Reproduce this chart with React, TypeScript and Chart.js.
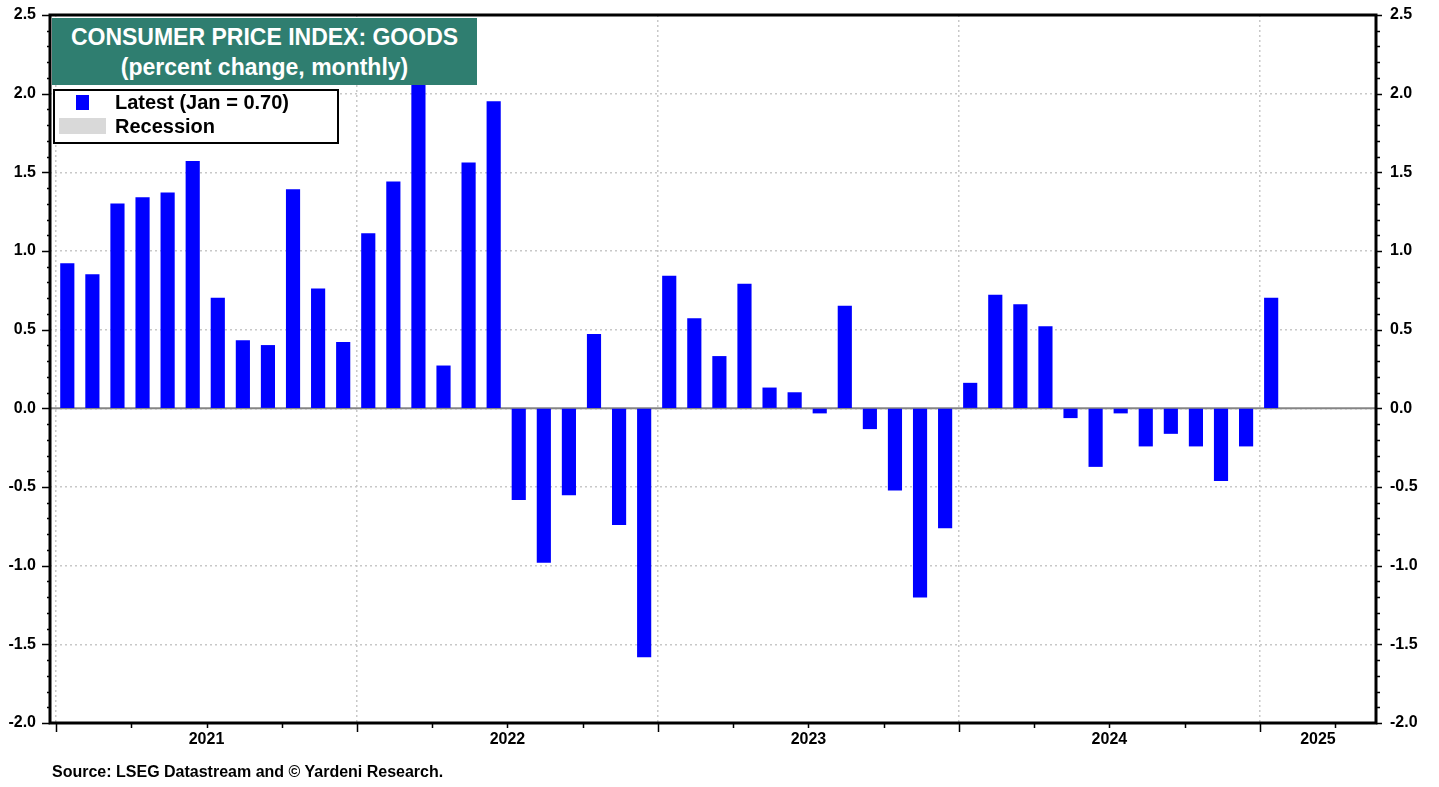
import React, { useEffect, useRef } from 'react';
import { Chart, registerables } from 'chart.js';

Chart.register(...registerables);

// ---------- data ----------
const months = [
  'Jan 2021', 'Feb 2021', 'Mar 2021', 'Apr 2021', 'May 2021', 'Jun 2021',
  'Jul 2021', 'Aug 2021', 'Sep 2021', 'Oct 2021', 'Nov 2021', 'Dec 2021',
  'Jan 2022', 'Feb 2022', 'Mar 2022', 'Apr 2022', 'May 2022', 'Jun 2022',
  'Jul 2022', 'Aug 2022', 'Sep 2022', 'Oct 2022', 'Nov 2022', 'Dec 2022',
  'Jan 2023', 'Feb 2023', 'Mar 2023', 'Apr 2023', 'May 2023', 'Jun 2023',
  'Jul 2023', 'Aug 2023', 'Sep 2023', 'Oct 2023', 'Nov 2023', 'Dec 2023',
  'Jan 2024', 'Feb 2024', 'Mar 2024', 'Apr 2024', 'May 2024', 'Jun 2024',
  'Jul 2024', 'Aug 2024', 'Sep 2024', 'Oct 2024', 'Nov 2024', 'Dec 2024',
  'Jan 2025',
];

const goodsCpiChange = [
  0.92, 0.85, 1.30, 1.34, 1.37, 1.57, 0.70, 0.43, 0.40, 1.39, 0.76, 0.42,
  1.11, 1.44, 2.15, 0.27, 1.56, 1.95, -0.58, -0.98, -0.55, 0.47, -0.74, -1.58,
  0.84, 0.57, 0.33, 0.79, 0.13, 0.10, -0.03, 0.65, -0.13, -0.52, -1.20, -0.76,
  0.16, 0.72, 0.66, 0.52, -0.06, -0.37, -0.03, -0.24, -0.16, -0.24, -0.46, -0.24,
  0.70,
];

const yearLabels = ['2021', '2022', '2023', '2024', '2025'];

const titleLines = ['CONSUMER PRICE INDEX: GOODS', '(percent change, monthly)'];
const legendLatest = 'Latest (Jan = 0.70)';
const legendRecession = 'Recession';
const sourceText = 'Source: LSEG Datastream and \u00A9 Yardeni Research.';

// ---------- layout / style ----------
const X_MIN = -0.24;
const X_MAX = 52.63;
const Y_MIN = -2.0;
const Y_MAX = 2.5;
const FONT_FAMILY = '"Liberation Sans", Arial, Helvetica, sans-serif';
const BAR_COLOR = '#0000ff';
const GRID_COLOR = '#c8c8c8';
const TEAL = '#2f7e70';

const tickFont = { family: FONT_FAMILY, size: 16, weight: 'bold' as const };

const framePlugin = {
  id: 'frame',
  beforeDatasetsDraw(chart: any) {
    const { ctx, chartArea, scales } = chart;
    const y0 = scales.y.getPixelForValue(0);
    ctx.save();
    ctx.strokeStyle = '#858585';
    ctx.lineWidth = 2;
    ctx.beginPath();
    ctx.moveTo(chartArea.left, y0);
    ctx.lineTo(chartArea.right, y0);
    ctx.stroke();
    ctx.restore();
  },
  afterDraw(chart: any) {
    const { ctx, chartArea, scales } = chart;
    const { left, right, top, bottom } = chartArea;
    ctx.save();
    ctx.strokeStyle = '#000';
    ctx.lineWidth = 1.5;
    ctx.beginPath();
    for (let t = Math.round(Y_MIN * 10); t <= Math.round(Y_MAX * 10); t++) {
      const py = Math.round(scales.y.getPixelForValue(t / 10)) + 0.5;
      const major = t % 5 === 0;
      ctx.moveTo(left - (major ? 8 : 3), py);
      ctx.lineTo(left, py);
      ctx.moveTo(right, py);
      ctx.lineTo(right + (major ? 6 : 4), py);
    }
    for (let m = 0; m <= X_MAX; m += 3) {
      const px = Math.round(scales.x.getPixelForValue(m)) + 0.5;
      const major = m % 12 === 0;
      ctx.moveTo(px, bottom);
      ctx.lineTo(px, bottom + (major ? 9 : 5));
    }
    ctx.stroke();
    ctx.lineWidth = 3;
    ctx.strokeRect(left, top, right - left, bottom - top);
    ctx.restore();
  },
};

export default function App() {
  const canvasRef = useRef<HTMLCanvasElement | null>(null);

  useEffect(() => {
    const canvas = canvasRef.current;
    if (!canvas) return;

    const yearMid = (k: number) =>
      k < yearLabels.length - 1 ? k * 12 + 6 : (k * 12 + X_MAX) / 2;

    const fixVertical = (width: number) => (scale: any) => {
      scale.width = width;
      scale.paddingTop = 0;
      scale.paddingBottom = 0;
    };

    const chart = new Chart(canvas, {
      type: 'bar',
      data: {
        datasets: [
          {
            label: legendLatest,
            data: months.map((_, i) => ({ x: i + 0.45, y: goodsCpiChange[i] })),
            backgroundColor: BAR_COLOR,
            borderWidth: 0,
            barThickness: 13.5,
          },
        ],
      },
      options: {
        responsive: false,
        maintainAspectRatio: false,
        animation: false,
        devicePixelRatio: 1,
        layout: { padding: { top: 15, left: 0, right: 0, bottom: 0 } },
        plugins: {
          legend: { display: false },
          tooltip: { enabled: false },
          title: { display: false },
        },
        scales: {
          x: {
            type: 'linear',
            min: X_MIN,
            max: X_MAX,
            offset: false,
            bounds: 'data',
            afterBuildTicks: (scale: any) => {
              const ticks: any[] = [];
              yearLabels.forEach((_, k) => {
                ticks.push({ value: k * 12 });
                ticks.push({ value: yearMid(k) });
              });
              scale.ticks = ticks;
            },
            ticks: {
              autoSkip: false,
              maxRotation: 0,
              minRotation: 0,
              padding: 7,
              color: '#000',
              font: tickFont,
              callback: (value: any) => {
                const v = Number(value);
                if (Math.abs(v % 12) < 1e-6) return '';
                const idx = Math.floor(v / 12);
                return yearLabels[idx] ?? '';
              },
            },
            grid: {
              offset: false,
              color: (ctx: any) => {
                const v = ctx.tick ? ctx.tick.value : 1;
                return Math.abs(v % 12) < 1e-6 ? GRID_COLOR : 'rgba(0,0,0,0)';
              },
              lineWidth: 1.5,
              drawTicks: false,
            },
            border: { display: false, dash: [2, 3] },
            afterFit: (scale: any) => {
              scale.height = 64;
              scale.paddingLeft = 0;
              scale.paddingRight = 0;
            },
          },
          y: {
            type: 'linear',
            position: 'left',
            min: Y_MIN,
            max: Y_MAX,
            ticks: {
              stepSize: 0.5,
              padding: 14,
              color: '#000',
              font: tickFont,
              callback: (v: any) => Number(v).toFixed(1),
            },
            grid: { color: GRID_COLOR, lineWidth: 1.5, drawTicks: false },
            border: { display: false, dash: [2, 3] },
            afterFit: fixVertical(50),
          },
          y2: {
            type: 'linear',
            position: 'right',
            min: Y_MIN,
            max: Y_MAX,
            ticks: {
              stepSize: 0.5,
              padding: 14,
              color: '#000',
              font: tickFont,
              callback: (v: any) => Number(v).toFixed(1),
            },
            grid: { display: false, drawTicks: false },
            border: { display: false },
            afterFit: fixVertical(63),
          },
        },
      } as any,
      plugins: [framePlugin],
    });

    return () => {
      chart.destroy();
    };
  }, []);

  const textBase: React.CSSProperties = {
    fontFamily: FONT_FAMILY,
    fontWeight: 'bold',
    position: 'absolute',
    whiteSpace: 'nowrap',
  };

  return (
    <div
      style={{
        position: 'absolute',
        left: 0,
        top: 0,
        width: 1439,
        height: 787,
        background: '#fff',
        overflow: 'hidden',
      }}
    >
      <canvas
        ref={canvasRef}
        width={1439}
        height={787}
        style={{ position: 'absolute', left: 0, top: 0, width: 1439, height: 787 }}
      />
      <div
        style={{
          position: 'absolute',
          left: 52,
          top: 18,
          width: 425,
          height: 67,
          background: TEAL,
          color: '#fff',
          fontFamily: FONT_FAMILY,
          fontWeight: 'bold',
          fontSize: 23,
          lineHeight: '30px',
          textAlign: 'center',
          paddingTop: 4,
          boxSizing: 'border-box',
        }}
      >
        {titleLines.map((l) => (
          <div key={l} style={{ whiteSpace: 'nowrap' }}>
            {l}
          </div>
        ))}
      </div>
      <div
        style={{
          position: 'absolute',
          left: 53,
          top: 89,
          width: 286,
          height: 55,
          background: '#fff',
          border: '2px solid #000',
          boxSizing: 'border-box',
        }}
      >
        <div
          style={{
            position: 'absolute',
            left: 21,
            top: 4,
            width: 13,
            height: 15,
            background: BAR_COLOR,
          }}
        />
        <div
          style={{
            position: 'absolute',
            left: 4,
            top: 27,
            width: 47,
            height: 16,
            background: '#d9d9d9',
          }}
        />
        <div style={{ ...textBase, left: 60, top: 0, fontSize: 20, lineHeight: '23px', color: '#000' }}>
          {legendLatest}
        </div>
        <div style={{ ...textBase, left: 60, top: 23.5, fontSize: 20, lineHeight: '23px', color: '#000' }}>
          {legendRecession}
        </div>
      </div>
      <div style={{ ...textBase, left: 52, top: 762, fontSize: 16, lineHeight: '19px', color: '#000' }}>
        {sourceText}
      </div>
    </div>
  );
}
